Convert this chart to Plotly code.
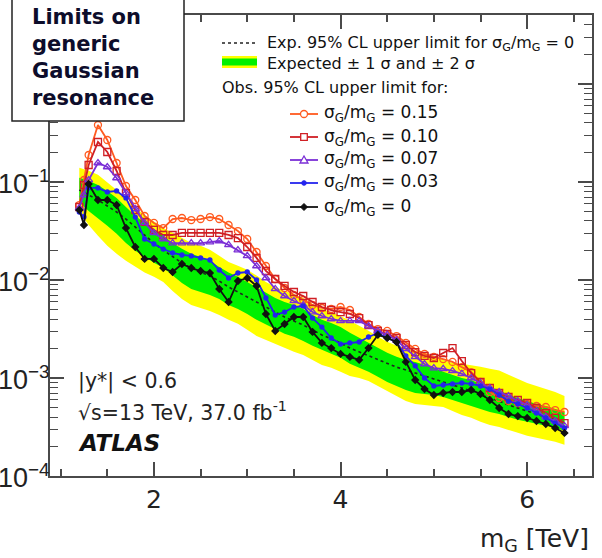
import plotly.graph_objects as go

# ---------------- data ----------------
mass_obs = [1.2, 1.25, 1.3, 1.4, 1.5, 1.6, 1.7, 1.8, 1.9, 2.0,
            2.1, 2.2, 2.3, 2.4, 2.5, 2.6, 2.7, 2.8, 2.9, 3.0,
            3.1, 3.2, 3.3, 3.4, 3.5, 3.6, 3.7, 3.8, 3.9, 4.0,
            4.1, 4.2, 4.3, 4.4, 4.5, 4.6, 4.7, 4.8, 4.9, 5.0,
            5.1, 5.2, 5.3, 5.4, 5.5, 5.6, 5.7, 5.8, 5.9, 6.0,
            6.1, 6.2, 6.3, 6.4]

obs_015 = [0.0582, 0.1048, 0.1886, 0.3816, 0.2683, 0.1562, 0.0910, 0.0655, 0.0450, 0.0382,
           0.0339, 0.0419, 0.0429, 0.0409, 0.0419, 0.0439, 0.0419, 0.0364, 0.0316, 0.0262,
           0.0193, 0.01389, 0.01024, 0.00829, 0.00703, 0.00625, 0.00556, 0.00518, 0.00506, 0.00530,
           0.00494, 0.00419, 0.00356, 0.00316, 0.00302, 0.00268, 0.00228, 0.00198, 0.00176, 0.00164,
           0.00156, 0.00146, 0.00129, 0.00115, 0.000910, 0.000720, 0.000625, 0.000582, 0.000556, 0.000543,
           0.000518, 0.000506, 0.000471, 0.000450]

obs_010 = [0.0556, 0.0932, 0.1491, 0.2560, 0.2023, 0.1295, 0.0772, 0.0518, 0.0391, 0.0324,
           0.0288, 0.0288, 0.0302, 0.0302, 0.0302, 0.0302, 0.0302, 0.0288, 0.0268, 0.0217,
           0.0168, 0.01235, 0.01024, 0.00869, 0.00754, 0.00687, 0.00596, 0.00530, 0.00494, 0.00471,
           0.00450, 0.00409, 0.00347, 0.00302, 0.00281, 0.00256, 0.00217, 0.00184, 0.00168, 0.00160,
           0.00180, 0.00202, 0.00149, 0.00112, 0.000910, 0.000791, 0.000703, 0.000640, 0.000596, 0.000556,
           0.000494, 0.000439, 0.000391, 0.000347]

obs_007 = [0.0543, 0.0737, 0.1048, 0.1562, 0.1423, 0.1099, 0.0772, 0.0530, 0.0382, 0.0302,
           0.0262, 0.0238, 0.0238, 0.0238, 0.0238, 0.0244, 0.0250, 0.0228, 0.0202, 0.0176,
           0.01389, 0.01048, 0.00810, 0.00687, 0.00611, 0.00556, 0.00471, 0.00429, 0.00400, 0.00382,
           0.00382, 0.00382, 0.00339, 0.00302, 0.00275, 0.00244, 0.00198, 0.00164, 0.00139, 0.00126,
           0.00124, 0.00118, 0.00110, 0.00100, 0.000889, 0.000791, 0.000720, 0.000655, 0.000582, 0.000530,
           0.000461, 0.000400, 0.000364, 0.000324]

obs_003 = [0.0494, 0.0440, 0.0869, 0.0869, 0.0791, 0.0810, 0.0687, 0.0439, 0.0262, 0.0233,
           0.0207, 0.0189, 0.0180, 0.0176, 0.0168, 0.0160, 0.01265, 0.01048, 0.01179, 0.01207,
           0.0100, 0.00655, 0.00439, 0.00471, 0.00530, 0.00543, 0.00409, 0.00331, 0.00256, 0.00222,
           0.00228, 0.00233, 0.00262, 0.00288, 0.00256, 0.00233, 0.00168, 0.00133, 0.00100, 0.000829,
           0.000848, 0.000869, 0.000889, 0.000869, 0.000829, 0.000772, 0.000671, 0.000582, 0.000543, 0.000494,
           0.000439, 0.000391, 0.000347, 0.000309]

obs_000 = [0.0518, 0.0364, 0.0954, 0.0655, 0.0655, 0.0582, 0.0339, 0.0217, 0.0164, 0.0164,
           0.01326, 0.01207, 0.01457, 0.01326, 0.01235, 0.01179, 0.00810, 0.00596, 0.00977, 0.01048,
           0.00869, 0.00450, 0.00302, 0.00356, 0.00419, 0.00419, 0.00295, 0.00228, 0.00202, 0.00176,
           0.00164, 0.00153, 0.00202, 0.00275, 0.00256, 0.00233, 0.00146, 0.000954, 0.000772, 0.000671,
           0.000703, 0.000720, 0.000720, 0.000754, 0.000687, 0.000596, 0.000494, 0.000429, 0.000409, 0.000391,
           0.000364, 0.000339, 0.000309, 0.000275]

mass_exp = [1.2, 1.3, 1.4, 1.5, 1.6, 1.7, 1.8, 1.9, 2.0,
            2.1, 2.2, 2.3, 2.4, 2.5, 2.6, 2.7, 2.8, 2.9, 3.0,
            3.1, 3.2, 3.3, 3.4, 3.5, 3.6, 3.7, 3.8, 3.9, 4.0,
            4.1, 4.2, 4.3, 4.4, 4.5, 4.6, 4.7, 4.8, 4.9, 5.0,
            5.1, 5.2, 5.3, 5.4, 5.5, 5.6, 5.7, 5.8, 5.9, 6.0,
            6.1, 6.2, 6.3, 6.4]

exp_med = [0.0829, 0.0737, 0.0655, 0.0569, 0.0494, 0.0419, 0.0347, 0.0288, 0.0238,
           0.0202, 0.0172, 0.0149, 0.01326, 0.01207, 0.01099, 0.00977, 0.00848, 0.00754, 0.00671,
           0.00596, 0.00530, 0.00471, 0.00419, 0.00382, 0.00347, 0.00309, 0.00275, 0.00250, 0.00228,
           0.00202, 0.00184, 0.00168, 0.00153, 0.00139, 0.00129, 0.00121, 0.00112, 0.00105, 0.000977,
           0.000910, 0.000848, 0.000791, 0.000737, 0.000671, 0.000625, 0.000582, 0.000530, 0.000494, 0.000461,
           0.000429, 0.000400, 0.000373, 0.000347]

exp_p2 = [0.1396, 0.1301, 0.1185, 0.1000, 0.0829, 0.0671, 0.0544, 0.0461, 0.0392,
          0.0340, 0.0303, 0.0269, 0.0239, 0.0223, 0.0203, 0.0177, 0.0153, 0.0140, 0.0127,
          0.0111, 0.00954, 0.00849, 0.00773, 0.00720, 0.00656, 0.00570, 0.00507, 0.00472, 0.00430,
          0.00383, 0.00340, 0.00303, 0.00263, 0.00234, 0.00213, 0.00199, 0.00189, 0.00181, 0.00168,
          0.00153, 0.00143, 0.00140, 0.00136, 0.00130, 0.00124, 0.00119, 0.00108, 0.000977, 0.000889,
          0.000829, 0.000773, 0.000720, 0.000656]

exp_p1 = [0.1105, 0.1030, 0.0932, 0.0810, 0.0687, 0.0557, 0.0451, 0.0383, 0.0325,
          0.0282, 0.0239, 0.0208, 0.0185, 0.0172, 0.0157, 0.0136, 0.0119, 0.0108, 0.00954,
          0.00849, 0.00737, 0.00656, 0.00597, 0.00557, 0.00507, 0.00440, 0.00392, 0.00365, 0.00332,
          0.00289, 0.00257, 0.00228, 0.00203, 0.00181, 0.00165, 0.00153, 0.00146, 0.00136, 0.00127,
          0.00116, 0.00108, 0.00100, 0.000954, 0.000869, 0.000810, 0.000755, 0.000671, 0.000626, 0.000583,
          0.000544, 0.000519, 0.000484, 0.000451]

exp_m1 = [0.0626, 0.0507, 0.0430, 0.0357, 0.0296, 0.0239, 0.0199, 0.0172, 0.0150,
          0.0133, 0.0111, 0.00932, 0.00810, 0.00755, 0.00704, 0.00641, 0.00557, 0.00507, 0.00451,
          0.00392, 0.00348, 0.00316, 0.00282, 0.00263, 0.00239, 0.00213, 0.00194, 0.00177, 0.00161,
          0.00140, 0.00127, 0.00116, 0.00103, 0.000911, 0.000829, 0.000755, 0.000704, 0.000687, 0.000671,
          0.000641, 0.000597, 0.000557, 0.000519, 0.000484, 0.000451, 0.000430, 0.000401, 0.000374, 0.000357,
          0.000340, 0.000325, 0.000310, 0.000289]

exp_m2 = [0.0495, 0.0365, 0.0282, 0.0223, 0.0185, 0.0157, 0.0136, 0.0119, 0.0108,
          0.00954, 0.00773, 0.00641, 0.00557, 0.00519, 0.00484, 0.00440, 0.00392, 0.00357, 0.00310,
          0.00269, 0.00245, 0.00223, 0.00203, 0.00185, 0.00172, 0.00153, 0.00136, 0.00127, 0.00116,
          0.00105, 0.00100, 0.000932, 0.000829, 0.000737, 0.000656, 0.000583, 0.000544, 0.000531, 0.000519,
          0.000507, 0.000461, 0.000420, 0.000392, 0.000357, 0.000332, 0.000316, 0.000296, 0.000276, 0.000257,
          0.000245, 0.000234, 0.000223, 0.000208]

y_tickvals = [1e-4, 1e-3, 1e-2, 1e-1, 1]
y_ticktext = ["10<sup>\u22124</sup>", "10<sup>\u22123</sup>", "10<sup>\u22122</sup>",
              "10<sup>\u22121</sup>", "1"]
y_minor_mult = [2, 3, 4, 5, 6, 7, 8, 9]
x_tickvals = [2, 4, 6]

series_labels = ["\u03c3<sub>G</sub>/m<sub>G</sub> = 0.15",
                 "\u03c3<sub>G</sub>/m<sub>G</sub> = 0.10",
                 "\u03c3<sub>G</sub>/m<sub>G</sub> = 0.07",
                 "\u03c3<sub>G</sub>/m<sub>G</sub> = 0.03",
                 "\u03c3<sub>G</sub>/m<sub>G</sub> = 0"]

# ---------------- styling ----------------
W, H = 602, 558
ML, MR, MT, MB = 50, 10, 15, 82
FONT = "DejaVu Sans, Verdana, sans-serif"
TICKFONT = "Liberation Sans, Arial, sans-serif"
YELLOW = "#ffff00"
GREEN = "#00f000"
AXC = "#4a4a4a"
Y_RANGE = [-4, 0.704]

y_minor_vals = [m * 10.0 ** e for e in range(-4, 1) for m in y_minor_mult]


def px_x(px):
    return (px - ML) / (W - ML - MR)


def px_y(py):
    return (H - MB - py) / (H - MB - MT)


fig = go.Figure()

# empty trace so that the minor-tick overlay axis is drawn
fig.add_trace(go.Scatter(x=[], y=[], yaxis="y2", showlegend=False, hoverinfo="skip"))

# expected bands
fig.add_trace(go.Scatter(x=mass_exp + mass_exp[::-1], y=exp_p2 + exp_m2[::-1],
                         fill="toself", fillcolor=YELLOW, line=dict(width=0),
                         mode="lines", showlegend=False, hoverinfo="skip",
                         name="Expected \u00b1 2 \u03c3"))
fig.add_trace(go.Scatter(x=mass_exp + mass_exp[::-1], y=exp_p1 + exp_m1[::-1],
                         fill="toself", fillcolor=GREEN, line=dict(width=0),
                         mode="lines", showlegend=False, hoverinfo="skip",
                         name="Expected \u00b1 1 \u03c3"))
fig.add_trace(go.Scatter(x=mass_exp, y=exp_med, mode="lines",
                         line=dict(color="#222222", width=1.6, dash="dot"),
                         showlegend=False, name="Expected"))

styles = [
    dict(color="#ff5a1f", symbol="circle-open", size=7),
    dict(color="#d01f24", symbol="square-open", size=7),
    dict(color="#7b2fd6", symbol="triangle-up-open", size=7),
    dict(color="#2424ee", symbol="circle", size=4),
    dict(color="#111111", symbol="diamond", size=5),
]
series = [obs_015, obs_010, obs_007, obs_003, obs_000]
for lab, vals, st in zip(series_labels, series, styles):
    fig.add_trace(go.Scatter(
        x=mass_obs, y=vals, mode="lines+markers", name=lab, showlegend=False,
        line=dict(color=st["color"], width=1.8),
        marker=dict(symbol=st["symbol"], size=st["size"], color=st["color"],
                    line=dict(color=st["color"], width=1.3))))

shapes = []
annotations = []

leg_font = dict(family=FONT, size=16, color="#111111")

# legend: expected line and bands
shapes.append(dict(type="line", xref="paper", yref="paper",
                   x0=px_x(222), x1=px_x(257), y0=px_y(43), y1=px_y(43),
                   line=dict(color="#222222", width=1.5, dash="dot")))
shapes.append(dict(type="rect", xref="paper", yref="paper",
                   x0=px_x(222), x1=px_x(257), y0=px_y(68), y1=px_y(56),
                   fillcolor=YELLOW, line=dict(width=0)))
shapes.append(dict(type="rect", xref="paper", yref="paper",
                   x0=px_x(222), x1=px_x(257), y0=px_y(65.5), y1=px_y(58.5),
                   fillcolor=GREEN, line=dict(width=0)))
annotations.append(dict(xref="paper", yref="paper", x=px_x(265), y=px_y(43),
                        xanchor="left", yanchor="middle", showarrow=False,
                        text="Exp. 95% CL upper limit for \u03c3<sub>G</sub>/m<sub>G</sub> = 0",
                        font=leg_font))
annotations.append(dict(xref="paper", yref="paper", x=px_x(265), y=px_y(63),
                        xanchor="left", yanchor="middle", showarrow=False,
                        text="Expected \u00b1 1 \u03c3 and \u00b1 2 \u03c3", font=leg_font))
annotations.append(dict(xref="paper", yref="paper", x=px_x(220), y=px_y(88),
                        xanchor="left", yanchor="middle", showarrow=False,
                        text="Obs. 95% CL upper limit for:", font=leg_font))

# legend: observed series
leg_rows = [114, 137, 160, 183, 207]
LX0, LX1, LXM = 290, 318, 304
for lab, st, ry in zip(series_labels, styles, leg_rows):
    c = st["color"]
    shapes.append(dict(type="line", xref="paper", yref="paper",
                       x0=px_x(LX0), x1=px_x(LX1), y0=px_y(ry), y1=px_y(ry),
                       line=dict(color=c, width=1.8)))
    sym = st["symbol"]
    if sym == "circle-open":
        shapes.append(dict(type="circle", xref="paper", yref="paper",
                           x0=px_x(LXM - 3.5), x1=px_x(LXM + 3.5),
                           y0=px_y(ry + 3.5), y1=px_y(ry - 3.5),
                           fillcolor="white", line=dict(color=c, width=1.3)))
    elif sym == "square-open":
        shapes.append(dict(type="rect", xref="paper", yref="paper",
                           x0=px_x(LXM - 3.3), x1=px_x(LXM + 3.3),
                           y0=px_y(ry + 3.3), y1=px_y(ry - 3.3),
                           fillcolor="white", line=dict(color=c, width=1.3)))
    elif sym == "triangle-up-open":
        p = "M {:.5f},{:.5f} L {:.5f},{:.5f} L {:.5f},{:.5f} Z".format(
            px_x(LXM - 4), px_y(ry + 3), px_x(LXM + 4), px_y(ry + 3),
            px_x(LXM), px_y(ry - 4))
        shapes.append(dict(type="path", xref="paper", yref="paper", path=p,
                           fillcolor="white", line=dict(color=c, width=1.3)))
    elif sym == "circle":
        shapes.append(dict(type="circle", xref="paper", yref="paper",
                           x0=px_x(LXM - 2.3), x1=px_x(LXM + 2.3),
                           y0=px_y(ry + 2.3), y1=px_y(ry - 2.3),
                           fillcolor=c, line=dict(color=c, width=1)))
    else:
        p = "M {:.5f},{:.5f} L {:.5f},{:.5f} L {:.5f},{:.5f} L {:.5f},{:.5f} Z".format(
            px_x(LXM - 3.5), px_y(ry), px_x(LXM), px_y(ry - 3.5),
            px_x(LXM + 3.5), px_y(ry), px_x(LXM), px_y(ry + 3.5))
        shapes.append(dict(type="path", xref="paper", yref="paper", path=p,
                           fillcolor=c, line=dict(color=c, width=1)))
    annotations.append(dict(xref="paper", yref="paper", x=px_x(322), y=px_y(ry),
                            xanchor="left", yanchor="middle", showarrow=False,
                            text=lab, font=dict(family=FONT, size=17, color="#111111")))

# title box
shapes.append(dict(type="rect", xref="paper", yref="paper", layer="above",
                   x0=px_x(12), x1=px_x(184), y0=px_y(121), y1=px_y(-5),
                   fillcolor="white", line=dict(color="#222222", width=1.5)))
box_lines = ["Limits on", "generic", "Gaussian", "resonance"]
box_y = [17, 44, 71, 98]
for t, yy in zip(box_lines, box_y):
    annotations.append(dict(xref="paper", yref="paper", x=px_x(30), y=px_y(yy),
                            xanchor="left", yanchor="middle", showarrow=False,
                            text="<b>" + t + "</b>",
                            font=dict(family=FONT, size=21, color="#0d0d2b")))

# labels inside the plot
lab_font = dict(family=FONT, size=20.5, color="#222222")
annotations.append(dict(xref="paper", yref="paper", x=px_x(76), y=px_y(381),
                        xanchor="left", yanchor="middle", showarrow=False,
                        text="|y*| &lt; 0.6", font=lab_font))
annotations.append(dict(xref="paper", yref="paper", x=px_x(76), y=px_y(411),
                        xanchor="left", yanchor="middle", showarrow=False,
                        text="\u221as=13 TeV, 37.0 fb<sup>-1</sup>", font=lab_font))
annotations.append(dict(xref="paper", yref="paper", x=px_x(76), y=px_y(443),
                        xanchor="left", yanchor="middle", showarrow=False,
                        text="<b><i>ATLAS</i></b>",
                        font=dict(family=FONT, size=23, color="#111111")))

# x-axis title
annotations.append(dict(xref="paper", yref="paper", x=px_x(591), y=px_y(540),
                        xanchor="right", yanchor="middle", showarrow=False,
                        text="m<sub>G</sub> [TeV]",
                        font=dict(family=FONT, size=25, color="#222222")))

fig.update_layout(
    width=W, height=H,
    margin=dict(l=ML, r=MR, t=MT, b=MB, pad=0, autoexpand=False),
    paper_bgcolor="white", plot_bgcolor="white",
    showlegend=False,
    shapes=shapes, annotations=annotations,
    xaxis=dict(range=[0.886, 6.695], showgrid=False, zeroline=False, automargin=False,
               showline=True, linecolor=AXC, linewidth=2, mirror="ticks",
               ticks="inside", ticklen=14, tickwidth=1.5, tickcolor=AXC,
               tickmode="array", tickvals=x_tickvals,
               tickfont=dict(family=FONT, size=25, color="#222222"),
               minor=dict(ticks="inside", ticklen=7, tickwidth=1.5, tickcolor=AXC,
                          dtick=0.5, tick0=0, showgrid=False)),
    yaxis=dict(type="log", range=Y_RANGE, showgrid=False, zeroline=False, automargin=False,
               showline=True, linecolor=AXC, linewidth=2, mirror="ticks",
               ticks="inside", ticklen=14, tickwidth=1.5, tickcolor=AXC,
               tickmode="array", tickvals=y_tickvals, ticktext=y_ticktext,
               ticklabelstandoff=-7, ticklabelshift=2,
               tickfont=dict(family=TICKFONT, size=27, color="#222222")),
    yaxis2=dict(type="log", range=Y_RANGE, overlaying="y", side="left", anchor="x",
                showgrid=False, zeroline=False, automargin=False, showline=False,
                mirror="ticks", ticks="inside", ticklen=8, tickwidth=1.3, tickcolor=AXC,
                tickmode="array", tickvals=y_minor_vals, showticklabels=False),
)

fig.write_html("out.html")
